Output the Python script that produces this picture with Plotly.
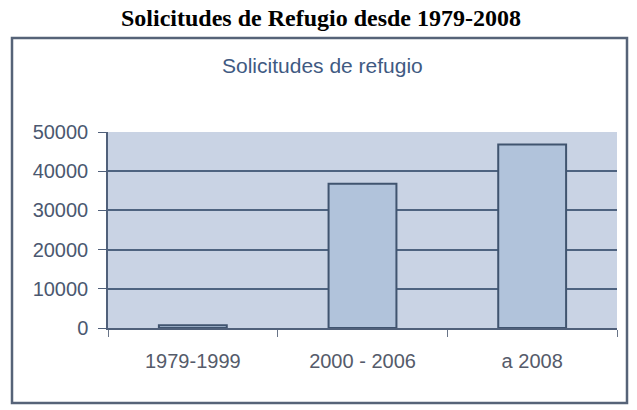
import plotly.graph_objects as go

categories = ["1979-1999", "2000 - 2006", "a 2008"]
values = [700, 36800, 46800]
y_ticks = [0, 10000, 20000, 30000, 40000, 50000]
y_tick_text = ["0", "10000", "20000", "30000", "40000", "50000"]

L, R, T, B = 108, 20, 132, 82
W, H = 637, 410
pw, ph = W - L - R, H - T - B

def px(x):
    return (x - L) / pw

def py(y):
    return (H - B - y) / ph

fig = go.Figure()
fig.add_trace(go.Bar(
    x=categories, y=values, width=0.4,
    marker=dict(color="#b1c3db", line=dict(color="#40546f", width=2)),
))

fig.update_layout(
    width=W, height=H,
    margin=dict(l=L, r=R, t=T, b=B),
    paper_bgcolor="white",
    plot_bgcolor="#c9d3e4",
    showlegend=False,
    title=dict(text="<b>Solicitudes de Refugio desde 1979-2008</b>",
               x=321 / W, xref="container", xanchor="center",
               y=1 - 18 / H, yref="container", yanchor="middle",
               font=dict(family="Liberation Serif", size=24, color="black")),
    font=dict(family="Liberation Sans, Arial", size=20, color="#555b6a"),
    xaxis=dict(type="category", tickson="boundaries", ticks="outside",
               ticklen=7, tickcolor="#6a7588", showline=True, linecolor="#50607a",
               linewidth=1.5, showgrid=False, ticklabelstandoff=14,
               tickfont=dict(size=20, color="#555b6a")),
    yaxis=dict(range=[0, 50000], tickvals=y_ticks, ticktext=y_tick_text,
               ticks="outside", ticklen=8, ticklabelstandoff=6,
               tickcolor="#50607a", showline=True, linecolor="#50607a",
               linewidth=1.5, gridcolor="#4e6380", gridwidth=1.5,
               zeroline=False, tickfont=dict(size=20, color="#4b5870")),
    bargap=0.6,
)

fig.add_annotation(text="Solicitudes de refugio", xref="paper", yref="paper",
                   x=px(322), y=py(66), xanchor="center", yanchor="middle",
                   showarrow=False,
                   font=dict(family="Liberation Sans, Arial", size=21, color="#3f5a82"))

fig.add_shape(type="rect", xref="paper", yref="paper",
              x0=px(12), x1=px(627), y0=py(403), y1=py(38),
              line=dict(color="#566378", width=2.5), layer="below")

fig.write_html("out.html")
